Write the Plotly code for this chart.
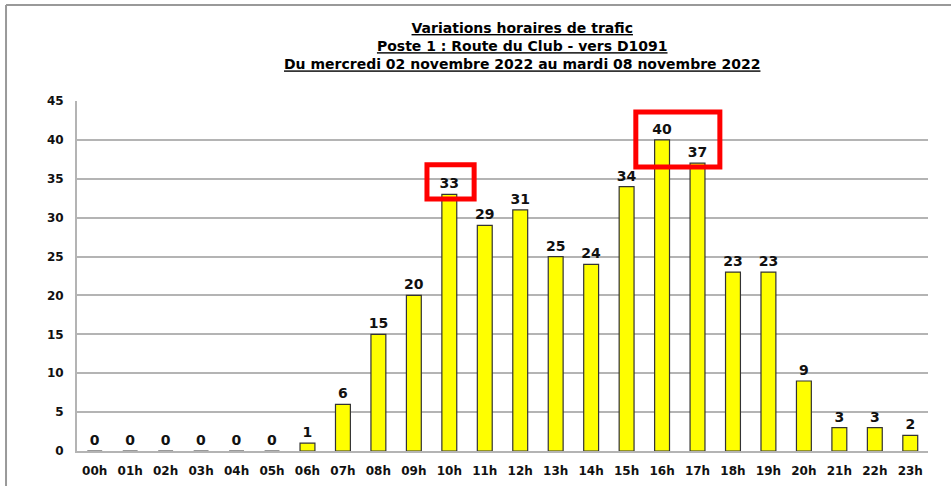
import plotly.graph_objects as go

# Hourly traffic counts
hours = ['00h', '01h', '02h', '03h', '04h', '05h', '06h', '07h', '08h', '09h', '10h', '11h',
         '12h', '13h', '14h', '15h', '16h', '17h', '18h', '19h', '20h', '21h', '22h', '23h']
counts = [0, 0, 0, 0, 0, 0, 1, 6, 15, 20, 33, 29, 31, 25, 24, 34, 40, 37, 23, 23, 9, 3, 3, 2]
y_ticks = [0, 5, 10, 15, 20, 25, 30, 35, 40, 45]

FONT = 'DejaVu Sans, sans-serif'
GRID = '#b4b4b4'

fig = go.Figure()
fig.add_trace(go.Bar(
    x=list(range(len(hours))),
    y=counts,
    width=0.42,
    marker=dict(color='#FFFF00', line=dict(color='#333333', width=1.2)),
    text=[f'<b>{c}</b>' for c in counts],
    textposition='outside',
    constraintext='none',
    textfont=dict(family=FONT, size=14, color='#111'),
    cliponaxis=False,
))

# highlight boxes around peak hours
highlight = dict(type='rect', xref='x', yref='y', line=dict(color='#FF0000', width=5),
                 fillcolor='rgba(0,0,0,0)', layer='above')
fig.add_shape(**highlight, x0=9.37, x1=10.70, y0=32.4, y1=36.8)
fig.add_shape(**highlight, x0=15.26, x1=17.63, y0=36.5, y1=43.6)

# outer frame (top and left edges)
frame = dict(type='line', xref='paper', yref='paper', line=dict(color='#999999', width=2))
fig.add_shape(**frame, x0=-0.0834, x1=1.05, y0=1.274, y1=1.274)
fig.add_shape(**frame, x0=-0.0834, x1=-0.0834, y0=-0.2, y1=1.274)

fig.add_annotation(
    xref='paper', yref='paper', x=0.523, y=1.237, yanchor='top', showarrow=False,
    text='<b><u>Variations horaires de trafic</u></b><br>'
         '<b><u>Poste 1 : Route du Club - vers D1091</u></b><br>'
         '<b><u>Du mercredi 02 novembre 2022 au mardi 08 novembre 2022</u></b>',
    font=dict(family=FONT, size=14, color='#000'),
    align='center',
)

fig.update_layout(
    width=951, height=486,
    margin=dict(l=77, r=23, t=101, b=35, autoexpand=False),
    paper_bgcolor='white', plot_bgcolor='white',
    showlegend=False,
    xaxis=dict(
        tickmode='array', tickvals=list(range(len(hours))), ticktext=[f'<b>{h}</b>' for h in hours],
        range=[-0.5, len(hours) - 0.5], automargin=False,
        showline=True, linecolor=GRID, linewidth=2, showgrid=False, ticks='',
        tickfont=dict(family=FONT, size=12, color='#111'),
        ticklabelstandoff=8,
    ),
    yaxis=dict(
        range=[0, 45], tickvals=y_ticks, ticktext=[f'<b>{v}</b>' for v in y_ticks],
        automargin=False,
        showline=True, linecolor=GRID, linewidth=2,
        showgrid=True, gridcolor=GRID, gridwidth=1.5, zeroline=False, ticks='',
        tickfont=dict(family=FONT, size=12, color='#111'),
        ticklabelstandoff=9,
    ),
)

fig.write_html('out.html', config={'displayModeBar': False},
               post_script="document.body.style.margin='0px';")
